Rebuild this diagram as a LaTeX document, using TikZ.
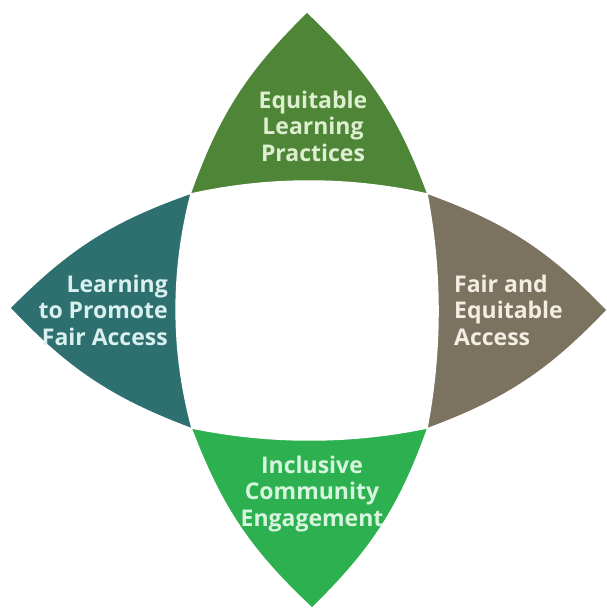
\documentclass[tikz,border=0pt]{standalone}
\usepackage{fontspec}
\setmainfont{Open Sans}
\definecolor{ctop}{HTML}{4E8537}
\definecolor{cleft}{HTML}{2E7070}
\definecolor{cright}{HTML}{7B725F}
\definecolor{cbot}{HTML}{2DB04F}
\definecolor{ttop}{HTML}{DDEFD0}
\definecolor{tleft}{HTML}{D9F0EE}
\definecolor{tright}{HTML}{F3EEE2}
\definecolor{tbot}{HTML}{D6F5DE}
\begin{document}
\begin{tikzpicture}[x=1pt,y=1pt,
  petal/.style={draw=white,line width=1.5pt,line join=miter},
  lbl/.style={inner sep=0pt,font=\fontsize{23}{26.5}\selectfont\bfseries}]
\useasboundingbox (0,0) rectangle (607,613);
\coordinate (TL) at (191,419);
\coordinate (TR) at (427,419);
\coordinate (BL) at (192,185);
\coordinate (BR) at (427,185);
\coordinate (T) at (307,600);
\coordinate (B) at (312,6);
\coordinate (L) at (11,305);
\coordinate (R) at (606,303);
% top petal
\fill[ctop] (TL) to[bend left=13] (T) to[bend left=13] (TR)
  .. controls (349,436.3) and (269,436.3) .. (TL) -- cycle;
% right petal
\fill[cright] (TR) to[bend left=13] (R) to[bend left=13] (BR)
  .. controls (441.7,263) and (441.7,341) .. (TR) -- cycle;
% bottom petal
\fill[cbot] (BR) to[bend left=13] (B) to[bend left=13] (BL)
  .. controls (270,169) and (349,169) .. (BR) -- cycle;
% left petal
\fill[cleft] (BL) to[bend left=13] (L) to[bend left=13] (TL)
  .. controls (171,341) and (171,263) .. (BL) -- cycle;
% white separations
\draw[petal] (TL) .. controls (269,436.3) and (349,436.3) .. (TR)
  .. controls (441.7,341) and (441.7,263) .. (BR)
  .. controls (349,169) and (270,169) .. (BL)
  .. controls (171,263) and (171,341) .. (TL);
\node[lbl,text=ttop,align=center] (ntop) at (313,486.7) {Equitable\\Learning\\Practices};
\node[lbl,text=tleft,align=right,anchor=east] (nleft) at (168,303) {Learning\\to Promote\\Fair Access};
\node[lbl,text=tright,align=left,anchor=west] (nright) at (454,303) {Fair and\\Equitable\\Access};
\node[lbl,text=tbot,align=center] (nbot) at (312,119) {Inclusive\\Community\\Engagement};
\end{tikzpicture}
\end{document}
